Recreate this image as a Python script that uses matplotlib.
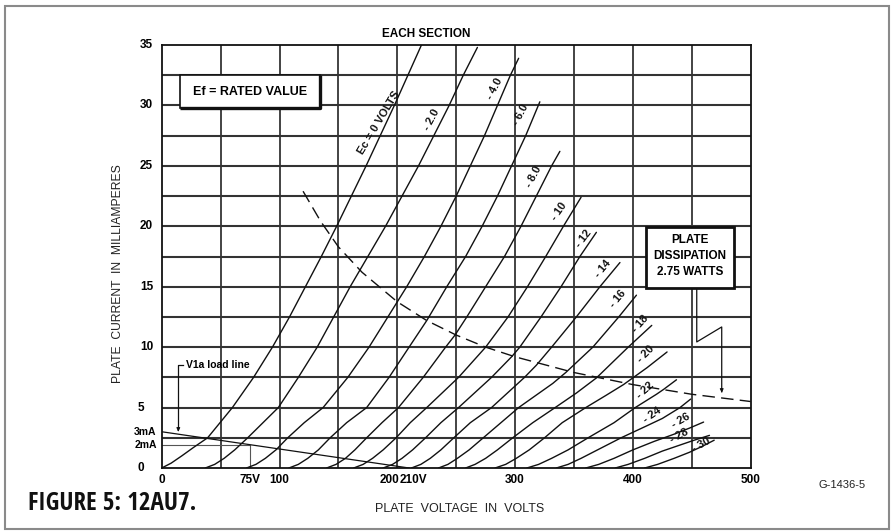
import matplotlib
matplotlib.use("Agg")
import matplotlib.pyplot as plt
from matplotlib.patches import Rectangle
from matplotlib import font_manager
from matplotlib.font_manager import FontProperties
from matplotlib.ft2font import FT2Font

# ---------------- data ----------------
# plate characteristic curves: plate voltage (V) vs plate current (mA)
ec0_v = [0, 8, 17, 27, 39, 60, 78, 94, 108.5, 122, 135.5, 148.5, 161, 173.5, 185.5, 197.5, 209, 220.5]
ec0_i = [0, 0.4, 1.0, 1.7, 2.5, 5, 7.5, 10, 12.5, 15, 17.5, 20, 22.5, 25, 27.5, 30, 32.5, 35]
ec2_v = [37, 45, 53, 62, 73, 86, 99, 116, 132, 146, 160, 175, 190, 204, 218, 231, 244, 256, 268]
ec2_i = [0, 0.3, 0.8, 1.5, 2.5, 3.75, 5, 7.5, 10, 12.5, 15, 17.5, 20, 22.5, 25, 27.5, 30, 32.5, 34.8]
ec4_v = [72, 80, 88, 97, 107, 121, 137, 158, 176, 192, 200, 208, 223, 237, 250, 262, 274, 285, 296, 303]
ec4_i = [0, 0.3, 0.8, 1.5, 2.5, 3.75, 5, 7.5, 10, 12.5, 13.75, 15, 17.5, 20, 22.5, 25, 27.5, 30, 32.5, 33.9]
ec6_v = [108, 116, 124, 133, 143, 157, 174, 193, 210, 225, 242, 258, 272, 285, 297, 309, 321]
ec6_i = [0, 0.3, 0.8, 1.5, 2.5, 3.75, 5, 7.5, 10, 12.2, 15, 17.5, 20, 22.5, 25, 27.5, 30.3]
ec8_v = [140, 148, 156, 164, 174, 187, 201, 222, 241, 249, 259, 275, 291, 305, 318, 331, 338]
ec8_i = [0, 0.3, 0.8, 1.5, 2.5, 3.75, 5, 7.5, 10, 11, 12.5, 15, 17.5, 20, 22.5, 25, 26.2]
ec10_v = [163, 171, 179, 188, 199, 211, 225, 252, 275, 294, 310.5, 326, 341, 356]
ec10_i = [0, 0.3, 0.8, 1.5, 2.5, 3.75, 5, 7.5, 10, 12.5, 15, 17.5, 20, 22.4]
ec12_v = [188, 196, 204, 213, 224, 237, 252, 280, 297, 304, 322, 339, 355, 369]
ec12_i = [0, 0.3, 0.8, 1.5, 2.5, 3.75, 5, 7.5, 9.2, 10, 12.5, 15, 17.5, 19.5]
ec14_v = [212, 220, 228, 237, 248, 262, 280, 308, 318, 331, 352, 372, 389]
ec14_i = [0, 0.3, 0.8, 1.5, 2.5, 3.75, 5, 7.5, 8.5, 10, 12.5, 15, 17]
ec16_v = [235, 243, 251, 261, 273, 288, 303, 332, 343, 366, 388, 403]
ec16_i = [0, 0.3, 0.8, 1.5, 2.5, 3.75, 5, 7, 7.9, 10, 12.5, 14.3]
ec18_v = [258, 266, 275, 285, 298, 315, 334, 352, 369, 396, 416]
ec18_i = [0, 0.3, 0.8, 1.5, 2.5, 3.75, 5, 6.2, 7.45, 10, 11.8]
ec20_v = [283, 292, 301, 312, 325, 340, 360, 377, 392, 412, 429]
ec20_i = [0, 0.3, 0.8, 1.5, 2.5, 3.75, 5, 6, 6.9, 8.3, 9.6]
ec22_v = [310, 320, 331, 345, 362, 384, 402, 420, 426, 437]
ec22_i = [0, 0.3, 0.8, 1.5, 2.5, 3.75, 5, 6.1, 6.5, 7.3]
ec24_v = [335, 345, 356, 370, 390, 412, 425, 440, 449]
ec24_i = [0, 0.3, 0.8, 1.5, 2.5, 3.5, 4.1, 5, 5.7]
ec26_v = [360, 371, 384, 400, 418, 435, 448, 460]
ec26_i = [0, 0.3, 0.8, 1.5, 2.2, 2.8, 3.3, 3.8]
ec28_v = [385, 396, 410, 425, 440, 452, 465]
ec28_i = [0, 0.3, 0.8, 1.4, 1.9, 2.3, 2.7]
ec30_v = [410, 421, 435, 448, 459, 469]
ec30_i = [0, 0.3, 0.8, 1.3, 1.8, 2.3]

curve_labels = ["Ec = 0 VOLTS", "- 2.0", "- 4.0", "- 6.0", "- 8.0", "- 10", "- 12", "- 14",
                "- 16", "- 18", "- 20", "- 22", "- 24", "- 26", "- 28", "- 30"]

# plate dissipation (2.75 W) limit curve
diss_v = [120, 135, 150, 170, 200, 225, 250, 275, 300, 350, 400, 450, 500]
diss_i = [22.9, 20.4, 18.3, 16.2, 13.75, 12.2, 11.0, 10.0, 9.2, 7.9, 6.9, 6.1, 5.5]

# V1a load line and operating point
load_v = [0, 210]
load_i = [3.0, 0]
op_v = 75
op_i = 1.93

# axis tick labels
ytick_vals = [0, 5, 10, 15, 20, 25, 30, 35]
ytick_labels = ["0", "5", "10", "15", "20", "25", "30", "35"]
xtick_vals = [0, 75, 100, 200, 210, 300, 400, 500]
xtick_labels = ["0", "75V", "100", "200", "210V", "300", "400", "500"]
extra_yvals = [3.0, 1.93]
extra_ylabels = ["3mA", "2mA"]

# ---------------- layout / styling ----------------
curves = [(ec0_v, ec0_i), (ec2_v, ec2_i), (ec4_v, ec4_i), (ec6_v, ec6_i), (ec8_v, ec8_i),
          (ec10_v, ec10_i), (ec12_v, ec12_i), (ec14_v, ec14_i), (ec16_v, ec16_i),
          (ec18_v, ec18_i), (ec20_v, ec20_i), (ec22_v, ec22_i), (ec24_v, ec24_i),
          (ec26_v, ec26_i), (ec28_v, ec28_i), (ec30_v, ec30_i)]
# label placement (x, y in data units, rotation in degrees)
label_pos = [(184.5, 28.6, 59), (229.0, 28.8, 62), (282.3, 31.4, 62), (305.0, 29.2, 62),
             (315.6, 24.1, 62), (337.0, 21.2, 55), (358.2, 19.0, 52), (374.3, 16.5, 50),
             (387.0, 14.0, 50), (406.6, 11.9, 48), (410.5, 9.4, 45), (410.5, 6.4, 42),
             (416.7, 4.35, 35), (440.4, 3.9, 30), (439.0, 2.7, 28), (458.0, 1.9, 28)]

names = {f.name for f in font_manager.fontManager.ttflist}
SANS = "Liberation Sans" if "Liberation Sans" in names else "DejaVu Sans"

W, H = 894, 531
fig = plt.figure(figsize=(W / 100, H / 100), dpi=100)
fig.patch.set_facecolor("white")
renderer = fig.canvas.get_renderer()

# caption font: narrowest installed bold sans face that has all glyphs, fitted to width
CAPTION = "FIGURE 5: 12AU7."
TARGET_W = 177.0
ALLOWED = ("dejavu sans", "liberation sans", "roboto", "open sans", "noto sans", "lato", "inter")
best = None
for f in font_manager.fontManager.ttflist:
    nm = f.name.lower()
    if not nm.startswith(ALLOWED) or "mono" in nm or "cjk" in nm or "serif" in nm:
        continue
    wt = f.weight if isinstance(f.weight, int) else {"bold": 700}.get(f.weight, 400)
    if wt < 600 or f.style != "normal":
        continue
    try:
        ft = FT2Font(f.fname)
        if any(ft.get_char_index(ord(c)) == 0 for c in CAPTION if c != " "):
            continue
        fp = FontProperties(fname=f.fname, size=18)
        t = fig.text(0, 0, CAPTION, fontproperties=fp)
        w = t.get_window_extent(renderer).width
        t.remove()
    except Exception:
        continue
    if best is None or w < best[1]:
        best = (f.fname, w)
if best is not None:
    size = min(18.0, 18.0 * TARGET_W / best[1])
    fig_font = FontProperties(fname=best[0], size=size)
else:
    fig_font = FontProperties(family=SANS, weight="bold", size=14.8)

x0, x1, ytop, ybot = 161.7, 750.7, 45.0, 468.0
ax = fig.add_axes([x0 / W, 1 - ybot / H, (x1 - x0) / W, (ybot - ytop) / H])
ax.set_xlim(0, 500)
ax.set_ylim(0, 35)
for s in ax.spines.values():
    s.set_linewidth(1.3)
    s.set_color("#111")
ax.set_xticks([])
ax.set_yticks([])

# grid
for v in range(50, 500, 50):
    ax.axvline(v, color="#111", lw=1.1, zorder=1)
for k in range(1, 14):
    ax.axhline(k * 2.5, color="#333", lw=1.5, zorder=1)

# curves
for v, i in curves:
    ax.plot(v, i, color="#111", lw=1.0, zorder=3, solid_capstyle="round")

# dissipation curve
ax.plot(diss_v, diss_i, color="#111", lw=1.0, dashes=(9, 4.5), zorder=3)

# load line & operating point lines
ax.plot(load_v, load_i, color="#111", lw=0.9, zorder=3)
ax.plot([0, op_v], [op_i, op_i], color="#555", lw=0.8, zorder=2)
ax.plot([op_v, op_v], [0, op_i], color="#555", lw=0.8, zorder=2)

# curve labels
for txt, (lx, ly, rot) in zip(curve_labels, label_pos):
    ax.text(lx, ly, txt, rotation=rot, rotation_mode="anchor", ha="center", va="center",
            fontsize=8, fontweight="bold", family=SANS, color="#111", zorder=5)

# tick labels
px = 0.72  # points per pixel
for val, lab in zip(ytick_vals, ytick_labels):
    off = -17.5 if len(lab) == 1 else -8.5
    ax.annotate(lab, xy=(0, val), xytext=(off * px, 0), textcoords="offset points",
                ha="right", va="center", fontsize=8.5, fontweight="bold", family=SANS,
                annotation_clip=False)
for val, lab in zip(extra_yvals, extra_ylabels):
    ax.annotate(lab, xy=(0, val), xytext=(-5 * px, 0), textcoords="offset points",
                ha="right", va="center", fontsize=7.5, fontweight="bold", family=SANS,
                annotation_clip=False)
xshift = {"200": -8, "210V": 4}
for val, lab in zip(xtick_vals, xtick_labels):
    ax.annotate(lab, xy=(val, 0), xytext=(xshift.get(lab, 0) * px, -12 * px),
                textcoords="offset points", ha="center", va="center", fontsize=8.5,
                fontweight="bold", family=SANS, annotation_clip=False)

# axis titles
fig.text(118 / W, 1 - 274 / H, "PLATE  CURRENT  IN  MILLIAMPERES", rotation=90,
         ha="center", va="center", fontsize=8.7, family=SANS, color="#222")
fig.text(460 / W, 1 - 509 / H, "PLATE  VOLTAGE  IN  VOLTS", ha="center", va="center",
         fontsize=9, family=SANS, color="#222")
fig.text(426 / W, 1 - 34 / H, "EACH SECTION", ha="center", va="center",
         fontsize=8.5, fontweight="bold", family=SANS)
fig.text(842 / W, 1 - 485 / H, "G-1436-5", ha="center", va="center",
         fontsize=8, family=SANS, color="#222")
fig.text(28 / W, 1 - 504 / H, CAPTION, ha="left", va="center",
         fontproperties=fig_font, color="#111")

# Ef box
ax.add_patch(Rectangle((15.5, 29.8), 118.5, 2.7, facecolor="white", edgecolor="#111",
                       lw=1.2, zorder=6))
ax.plot([134, 134, 15.5], [32.5, 29.8, 29.8], color="#111", lw=2.4, zorder=7,
        solid_capstyle="butt")
ax.text(74.7, 31.15, "Ef = RATED VALUE", ha="center", va="center", fontsize=9,
        fontweight="bold", family=SANS, zorder=8)

# plate dissipation box
ax.add_patch(Rectangle((411.0, 14.93), 74.7, 4.97, facecolor="white", edgecolor="#111",
                       lw=2.0, zorder=6))
for ty, t in zip([18.83, 17.55, 16.2], ["PLATE", "DISSIPATION", "2.75 WATTS"]):
    ax.text(448.3, ty, t, ha="center", va="center", fontsize=8.5, fontweight="bold",
            family=SANS, zorder=8)
ax.plot([454.2, 454.2, 475.4, 475.4], [14.93, 10.43, 11.67, 6.3], color="#111", lw=0.9,
        zorder=4)
ax.annotate("", xy=(475.4, 6.0), xytext=(475.4, 6.8),
            arrowprops=dict(arrowstyle="-|>", lw=0.8, color="#111", mutation_scale=5),
            zorder=4)

# V1a load line label
ax.plot([18.5, 14.1, 14.1], [8.5, 8.5, 3.2], color="#111", lw=0.9, zorder=4)
ax.annotate("", xy=(14.1, 2.78), xytext=(14.1, 3.4),
            arrowprops=dict(arrowstyle="-|>", lw=0.8, color="#111", mutation_scale=5),
            zorder=4)
ax.text(20.5, 8.5, "V1a load line", ha="left", va="center", fontsize=7.5,
        fontweight="bold", family=SANS, zorder=5)

# outer frame
fig.patches.append(Rectangle((5 / W, 1 - 529 / H), 884 / W, 523 / H, transform=fig.transFigure,
                             fill=False, edgecolor="#8a8a8a", lw=1.5))

fig.savefig("out.png", dpi=100, facecolor="white")
